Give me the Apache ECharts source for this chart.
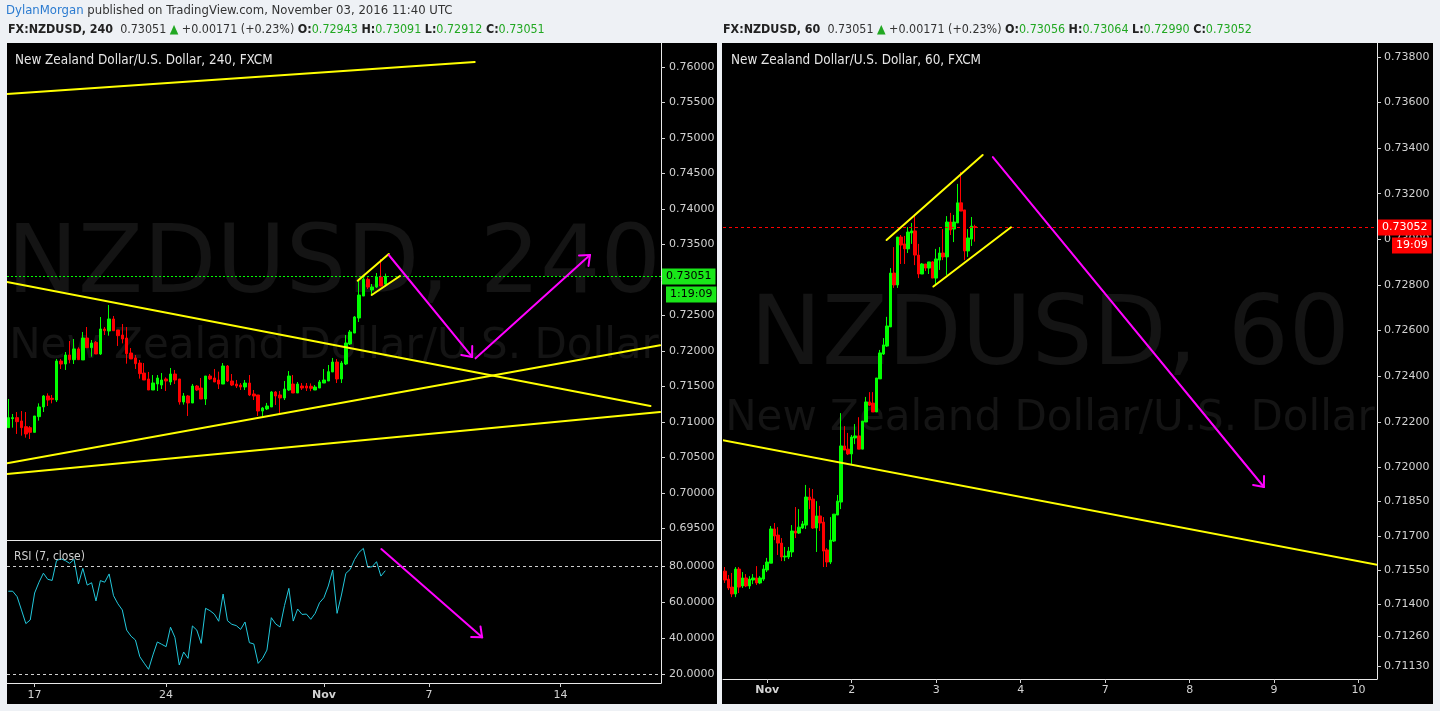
<!DOCTYPE html>
<html><head><meta charset="utf-8">
<script src="https://cdn.jsdelivr.net/npm/echarts@6/dist/echarts.min.js"></script>
<style>html,body{margin:0;padding:0;background:#eef1f5;}#c{width:1440px;height:711px;}</style>
</head><body><div id="c"></div><script>
// ---------- DATA ----------
// 4h candles [open, close, low, high]
const leftOHLC = [
[0.70922,0.71063,0.70922,0.71325],[0.71049,0.71063,0.70922,0.71114],[0.71063,0.71006,0.70833,0.71142],[0.71016,0.70922,0.70809,0.71156],
[0.70936,0.70833,0.70781,0.71142],[0.70922,0.70856,0.70762,0.70945],[0.70856,0.71086,0.70856,0.71086],[0.71077,0.71213,0.71020,0.71264],
[0.71213,0.71368,0.71142,0.71382],[0.71368,0.71311,0.71227,0.71405],[0.71335,0.71321,0.71264,0.71382],[0.71311,0.71860,0.71283,0.71889],
[0.71860,0.71818,0.71748,0.71889],[0.71818,0.71945,0.71734,0.71987],[0.71945,0.71879,0.71828,0.72142],[0.71879,0.72030,0.71818,0.72170],
[0.72030,0.71879,0.71875,0.72053],[0.71875,0.72184,0.71875,0.72269],[0.72184,0.72048,0.72048,0.72339],[0.72048,0.72114,0.71921,0.72156],
[0.72123,0.71959,0.71959,0.72142],[0.71959,0.72311,0.71945,0.72480],[0.72311,0.72287,0.72226,0.72339],[0.72283,0.72452,0.72217,0.72649],
[0.72452,0.72287,0.72287,0.72494],[0.72297,0.72217,0.72072,0.72297],[0.72226,0.72170,0.72109,0.72381],[0.72184,0.71964,0.71823,0.72339],
[0.71973,0.71889,0.71889,0.72043],[0.71903,0.71823,0.71748,0.71945],[0.71832,0.71682,0.71612,0.71875],[0.71691,0.71593,0.71593,0.71832],
[0.71607,0.71452,0.71452,0.71706],[0.71452,0.71551,0.71452,0.71663],[0.71537,0.71621,0.71438,0.71663],[0.71522,0.71593,0.71466,0.71691],
[0.71607,0.71579,0.71438,0.71630],[0.71565,0.71677,0.71522,0.71762],[0.71677,0.71593,0.71537,0.71734],[0.71607,0.71283,0.71246,0.71607],
[0.71283,0.71368,0.71246,0.71410],[0.71368,0.71269,0.71086,0.71382],[0.71269,0.71508,0.71269,0.71537],[0.71508,0.71452,0.71438,0.71522],
[0.71480,0.71325,0.71325,0.71621],[0.71325,0.71649,0.71241,0.71649],[0.71649,0.71607,0.71593,0.71677],[0.71621,0.71565,0.71565,0.71748],
[0.71593,0.71536,0.71466,0.71710],[0.71536,0.71790,0.71536,0.71832],[0.71790,0.71579,0.71565,0.71804],[0.71579,0.71522,0.71508,0.71677],
[0.71536,0.71508,0.71480,0.71593],[0.71522,0.71494,0.71452,0.71550],[0.71494,0.71550,0.71452,0.71593],[0.71550,0.71382,0.71367,0.71663],
[0.71396,0.71367,0.71311,0.71452],[0.71382,0.71156,0.71086,0.71382],[0.71156,0.71199,0.71086,0.71213],[0.71185,0.71227,0.71170,0.71270],
[0.71213,0.71424,0.71213,0.71438],[0.71424,0.71367,0.71241,0.71438],[0.71382,0.71340,0.71128,0.71438],[0.71340,0.71466,0.71311,0.71579],
[0.71452,0.71649,0.71438,0.71719],[0.71536,0.71410,0.71410,0.71663],[0.71410,0.71536,0.71410,0.71565],[0.71508,0.71480,0.71452,0.71550],
[0.71508,0.71480,0.71438,0.71550],[0.71504,0.71476,0.71435,0.71545],[0.71452,0.71494,0.71452,0.71522],[0.71480,0.71565,0.71480,0.71593],
[0.71550,0.71593,0.71550,0.71748],[0.71579,0.71710,0.71579,0.71804],[0.71706,0.71846,0.71706,0.71903],[0.71846,0.71607,0.71550,0.71888],
[0.71607,0.71832,0.71550,0.71860],[0.71818,0.72114,0.71804,0.72226],[0.72100,0.72269,0.72086,0.72297],[0.72254,0.72480,0.72254,0.72494],
[0.72466,0.72789,0.72410,0.72987],[0.72775,0.73010,0.72775,0.73057],[0.73010,0.72902,0.72874,0.73038],[0.72860,0.72902,0.72789,0.72944],
[0.72902,0.73043,0.72888,0.73099],[0.73043,0.72916,0.72916,0.73296],[0.72943,0.73051,0.72912,0.73091]
];
// RSI(7) values, one per 4h candle
const leftRSI = [66,66,63,55.6,48,50,65,71,76,72.6,72,83,84,83,81.5,83.7,70,78.7,69.4,70.7,60.6,71.9,71,75.6,63.5,59,55.6,44.4,41,38.9,
29.6,26,22.6,30.6,37.8,36.5,35.2,46,40.4,25,32.2,28.7,46.7,44.4,37,56.5,55.2,53.3,49.3,64.4,49.6,47.6,46.9,44.8,48.9,37.4,36.7,25.9,28.7,33.3,
51.3,47.8,46.1,58,67.6,49.4,56.1,53.1,53.3,50.4,53.7,59.6,62.4,68.9,77.8,53.7,63.9,75.9,78.1,83.7,87.6,89.8,79.3,79.6,82.4,74.4,77.4];
// 1h candles [open, close, low, high]
const rightOHLC = [
[0.71545,0.71506,0.71493,0.71563],[0.71510,0.71471,0.71462,0.71528],[0.71475,0.71445,0.71431,0.71537],[0.71445,0.71554,0.71431,0.71563],
[0.71554,0.71475,0.71449,0.71563],[0.71480,0.71515,0.71471,0.71541],[0.71515,0.71480,0.71475,0.71532],[0.71480,0.71510,0.71467,0.71523],
[0.71506,0.71515,0.71488,0.71532],[0.71515,0.71493,0.71484,0.71567],[0.71493,0.71515,0.71488,0.71523],[0.71510,0.71554,0.71502,0.71572],
[0.71550,0.71585,0.71541,0.71603],[0.71580,0.71730,0.71580,0.71743],[0.71730,0.71699,0.71681,0.71756],[0.71703,0.71668,0.71616,0.71738],
[0.71668,0.71607,0.71589,0.71690],[0.71607,0.71611,0.71589,0.71651],[0.71607,0.71633,0.71598,0.71651],[0.71629,0.71721,0.71607,0.71747],
[0.71721,0.71712,0.71690,0.71826],[0.71712,0.71738,0.71708,0.71817],[0.71734,0.71752,0.71730,0.71765],[0.71747,0.71870,0.71730,0.71923],
[0.71870,0.71857,0.71817,0.71910],[0.71861,0.71734,0.71730,0.71905],[0.71734,0.71787,0.71629,0.71852],[0.71787,0.71756,0.71721,0.71831],
[0.71760,0.71633,0.71563,0.71782],[0.71638,0.71585,0.71563,0.71646],[0.71585,0.71681,0.71576,0.71782],[0.71677,0.71795,0.71673,0.71795],
[0.71791,0.71852,0.71791,0.71879],[0.71848,0.72094,0.71817,0.72238],[0.72094,0.72076,0.72076,0.72181],[0.72080,0.72059,0.72054,0.72151],
[0.72059,0.72133,0.72015,0.72142],[0.72129,0.72138,0.72102,0.72190],[0.72138,0.72080,0.72080,0.72220],[0.72080,0.72203,0.72080,0.72203],
[0.72199,0.72287,0.72199,0.72309],[0.72287,0.72273,0.72269,0.72330],[0.72282,0.72243,0.72243,0.72330],[0.72243,0.72392,0.72243,0.72392],
[0.72388,0.72502,0.72388,0.72515],[0.72497,0.72537,0.72493,0.72567],[0.72532,0.72620,0.72528,0.72660],[0.72616,0.72852,0.72616,0.72874],
[0.72852,0.72800,0.72787,0.72966],[0.72800,0.73010,0.72787,0.73010],[0.73010,0.72975,0.72892,0.73019],[0.72980,0.72958,0.72892,0.73015],
[0.72958,0.73032,0.72940,0.73054],[0.73028,0.73037,0.72980,0.73072],[0.73037,0.72931,0.72887,0.73107],[0.72931,0.72848,0.72830,0.72980],
[0.72848,0.72892,0.72848,0.72896],[0.72892,0.72874,0.72861,0.72892],[0.72874,0.72901,0.72848,0.72901],[0.72901,0.72830,0.72830,0.72905],
[0.72830,0.72914,0.72804,0.72958],[0.72909,0.72940,0.72866,0.72966],[0.72940,0.72923,0.72909,0.73045],[0.72923,0.73076,0.72844,0.73102],
[0.73076,0.73041,0.73019,0.73116],[0.73045,0.73076,0.72988,0.73107],[0.73072,0.73160,0.73072,0.73243],[0.73160,0.73124,0.73124,0.73295],
[0.73129,0.72949,0.72909,0.73129],[0.72949,0.73006,0.72923,0.73045],[0.73001,0.73058,0.72971,0.73098],[0.73056,0.73052,0.72990,0.73064]
];
// drawings: [x1, y1, x2, y2, arrow]
const leftYellowLines = [[-0.3,0.7562,106.4,0.7607,0],[-0.3,0.72973,146.5,0.71227,0],[-0.3,0.70422,148.7,0.72082,0],[-0.3,0.70270,148.7,0.71142,0],
  [79.7,0.72991,86.8,0.73367,0],[82.9,0.72790,89.35,0.73057,0]];
const leftArrows = [[86.8,0.73353,105.8,0.71917,1],[106.6,0.71898,132.7,0.73353,1]];
const rsiArrows = [[85.1,89.4,108.1,40.4,1]];
const rightYellowLines = [[-0.85,0.72120,185.5,0.71572,0],[45.9,0.72997,73.2,0.73370,0],[59.2,0.72793,81.25,0.73053,0]];
const rightArrows = [[76.1,0.73361,153.1,0.71914,1]];
// ticks
const leftPriceTicks = [0.695,0.700,0.705,0.710,0.715,0.720,0.725,0.730,0.735,0.740,0.745,0.750,0.755,0.760];
const rsiTicks = [20,40,60,80];
const rightPriceTicks = [0.7113,0.7126,0.7140,0.7155,0.7170,0.7185,0.7200,0.7220,0.7240,0.7260,0.7280,0.7300,0.7320,0.7340,0.7360,0.7380];
const leftDayIdx = [6,36,72,96,126];
const leftDayText = ['17','24','Nov','7','14'];
const rightDayIdx = [12,36,60,84,108,132,156,180];
const rightDayText = ['Nov','2','3','4','7','8','9','10'];
const leftLast = 0.73051, rightLast = 0.73052;

// ---------- CHART ----------
const AX_FONT = "'DejaVu Sans', sans-serif";
const HDR_FONT = "'DejaVu Sans Condensed','Liberation Sans Narrow','Roboto Condensed','Liberation Sans',sans-serif";
const GREEN = '#00ff00', RED = '#ff0000';
const chart = echarts.init(document.getElementById('c'), null, {renderer:'canvas'});

function segRender(color, width) {
  return function (params, api) {
    const a = api.coord([api.value(0), api.value(1)]);
    const b = api.coord([api.value(2), api.value(3)]);
    const kids = [{type:'line', shape:{x1:a[0],y1:a[1],x2:b[0],y2:b[1]}, style:{stroke:color,lineWidth:width,lineCap:'round'}}];
    if (api.value(4) === 1) {
      const dx=b[0]-a[0], dy=b[1]-a[1], len=Math.hypot(dx,dy), ux=dx/len, uy=dy/len;
      const L=11, th=40*Math.PI/180;
      [1,-1].forEach(s => {
        const c=Math.cos(s*th), sn=Math.sin(s*th);
        const rx=-(ux*c-uy*sn), ry=-(ux*sn+uy*c);
        kids.push({type:'line', shape:{x1:b[0],y1:b[1],x2:b[0]+rx*L,y2:b[1]+ry*L}, style:{stroke:color,lineWidth:width,lineCap:'round'}});
      });
    }
    return {type:'group', children:kids};
  };
}
function segSeries(data, color, xi, yi) {
  return {type:'custom', xAxisIndex:xi, yAxisIndex:yi, clip:true, silent:true, z:5,
    dimensions:['x1','y1','x2','y2','arrow'], encode:{x:[0,2], y:[1,3]},
    renderItem: segRender(color, 2), data: data};
}
function dayFormatter(idxs, texts) {
  return function (v) { const i = idxs.indexOf(Math.round(v)); if (i < 0) return ''; return texts[i] === 'Nov' ? '{b|Nov}' : texts[i]; };
}
const axisLabelBase = {color:'#d2d2d2', fontFamily:AX_FONT, fontSize:11};
const whiteLine = {show:true, onZero:false, lineStyle:{color:'#e8e8e8', width:1}};
const HIDE = 'rgba(0,0,0,0)';

const option = {
  backgroundColor:'#eef1f5',
  animation:false,
  grid:[
    {left:7, top:43, width:654, height:497},
    {left:7, top:541, width:654, height:142},
    {left:723, top:43, width:654, height:636}
  ],
  xAxis:[
    {type:'value', gridIndex:0, min:-0.3, max:148.9, axisLine:whiteLine, axisTick:{show:false}, axisLabel:{show:false}, splitLine:{show:false}},
    {type:'value', gridIndex:1, min:-0.3, max:148.9, axisLine:whiteLine,
      axisTick:{show:true, customValues:leftDayIdx, length:4, lineStyle:{color:'#d2d2d2'}},
      axisLabel:Object.assign({}, axisLabelBase, {customValues:leftDayIdx, margin:7, formatter:dayFormatter(leftDayIdx,leftDayText), rich:{b:{fontWeight:'bold', color:'#d2d2d2', fontFamily:AX_FONT, fontSize:11}}}),
      splitLine:{show:false}},
    {type:'value', gridIndex:2, min:-0.57, max:185.23, axisLine:whiteLine,
      axisTick:{show:true, customValues:rightDayIdx, length:4, lineStyle:{color:'#d2d2d2'}},
      axisLabel:Object.assign({}, axisLabelBase, {customValues:rightDayIdx, margin:6, formatter:dayFormatter(rightDayIdx,rightDayText), rich:{b:{fontWeight:'bold', color:'#d2d2d2', fontFamily:AX_FONT, fontSize:11}}}),
      splitLine:{show:false}}
  ],
  yAxis:[
    {type:'value', gridIndex:0, position:'right', min:0.69340, max:0.76338, axisLine:whiteLine,
      axisTick:{show:true, customValues:leftPriceTicks, length:4, lineStyle:{color:'#d2d2d2'}},
      axisLabel:Object.assign({}, axisLabelBase, {customValues:leftPriceTicks, margin:8, formatter:v=>v.toFixed(5)}), splitLine:{show:false}},
    {type:'value', gridIndex:1, position:'right', min:15, max:93.9, axisLine:whiteLine,
      axisTick:{show:true, customValues:rsiTicks, length:4, lineStyle:{color:'#d2d2d2'}},
      axisLabel:Object.assign({}, axisLabelBase, {customValues:rsiTicks, margin:8, formatter:v=>v.toFixed(4)}), splitLine:{show:false}},
    {type:'value', gridIndex:2, position:'right', min:0.71072, max:0.73861, axisLine:whiteLine,
      axisTick:{show:true, customValues:rightPriceTicks, length:4, lineStyle:{color:'#d2d2d2'}},
      axisLabel:Object.assign({}, axisLabelBase, {customValues:rightPriceTicks, margin:7, formatter:v=>v.toFixed(5)}), splitLine:{show:false}}
  ],
  series:[
    {type:'candlestick', xAxisIndex:0, yAxisIndex:0, barWidth:3, encode:{x:0, y:[1,2,3,4]},
      data:leftOHLC.map((d,i)=>[i].concat(d)),
      itemStyle:{color:GREEN, color0:RED, borderColor:GREEN, borderColor0:RED, borderColorDoji:GREEN, borderWidth:1},
      markLine:{symbol:'none', silent:true, animation:false, precision:5, data:[
        {yAxis:leftLast, lineStyle:{color:HIDE, width:0},
          label:{show:true, position:'end', distance:1, offset:[4,18], formatter:'1:19:09', backgroundColor:'#19e619', color:'#000', padding:[3,4,2,4], fontFamily:AX_FONT, fontSize:11}},
        {yAxis:leftLast, lineStyle:{color:GREEN, type:[2,2], width:1},
          label:{show:true, position:'end', distance:1, formatter:'0.73051', backgroundColor:'#19e619', color:'#000', padding:[3,4,2,4], fontFamily:AX_FONT, fontSize:11}}
      ]}},
    segSeries(leftYellowLines, '#ffff00', 0, 0),
    segSeries(leftArrows, '#ff00ff', 0, 0),
    {type:'line', xAxisIndex:1, yAxisIndex:1, data:leftRSI.map((v,i)=>[i,v]), showSymbol:false, symbol:'none',
      lineStyle:{color:'#22c8dc', width:1}, z:3,
      markLine:{symbol:'none', silent:true, animation:false, label:{show:false},
        lineStyle:{color:'#cfcfcf', type:[3,3], width:1}, data:[{yAxis:80},{yAxis:20}]}},
    segSeries(rsiArrows, '#ff00ff', 1, 1),
    {type:'candlestick', xAxisIndex:2, yAxisIndex:2, barWidth:3, encode:{x:0, y:[1,2,3,4]},
      data:rightOHLC.map((d,i)=>[i].concat(d)),
      itemStyle:{color:GREEN, color0:RED, borderColor:GREEN, borderColor0:RED, borderColorDoji:GREEN, borderWidth:1},
      markLine:{symbol:'none', silent:true, animation:false, precision:5, data:[
        {yAxis:rightLast, lineStyle:{color:HIDE, width:0},
          label:{show:true, position:'end', distance:1, offset:[14,18], formatter:'19:09', backgroundColor:'#ff0000', color:'#fff', padding:[3,4,2,4], fontFamily:AX_FONT, fontSize:11}},
        {yAxis:rightLast, lineStyle:{color:RED, type:[3,3], width:1},
          label:{show:true, position:'end', distance:1, formatter:'0.73052', backgroundColor:'#ff0000', color:'#fff', padding:[3,4,2,4], fontFamily:AX_FONT, fontSize:11}}
      ]}},
    segSeries(rightYellowLines, '#ffff00', 2, 2),
    segSeries(rightArrows, '#ff00ff', 2, 2)
  ],
  graphic:[
    {type:'rect', z:-5, silent:true, shape:{x:7,y:43,width:710,height:661}, style:{fill:'#000'}},
    {type:'rect', z:-5, silent:true, shape:{x:722,y:43,width:711,height:661}, style:{fill:'#000'}},
    {type:'text', z:-4, silent:true, x:334, y:267, style:{text:'NZDUSD, 240', fill:'#141414', font:"95px 'DejaVu Sans', sans-serif", align:'center', verticalAlign:'middle'}},
    {type:'text', z:-4, silent:true, x:334, y:347, style:{text:'New Zealand Dollar/U.S. Dollar', fill:'#141414', font:"42px 'DejaVu Sans', sans-serif", align:'center', verticalAlign:'middle'}},
    {type:'text', z:-4, silent:true, x:1050, y:339, style:{text:'NZDUSD, 60', fill:'#141414', font:"96px 'DejaVu Sans', sans-serif", align:'center', verticalAlign:'middle'}},
    {type:'text', z:-4, silent:true, x:1050, y:419, style:{text:'New Zealand Dollar/U.S. Dollar', fill:'#141414', font:"42px 'DejaVu Sans', sans-serif", align:'center', verticalAlign:'middle'}},
    {type:'text', z:20, silent:true, x:15, y:61, style:{text:'New Zealand Dollar/U.S. Dollar, 240, FXCM', fill:'#e6e6e6', font:"13.4px "+HDR_FONT, verticalAlign:'middle'}},
    {type:'text', z:20, silent:true, x:731, y:61, style:{text:'New Zealand Dollar/U.S. Dollar, 60, FXCM', fill:'#e6e6e6', font:"13.4px "+HDR_FONT, verticalAlign:'middle'}},
    {type:'text', z:20, silent:true, x:14, y:557, style:{text:'RSI (7, close)', fill:'#d0d0d0', font:"12px "+HDR_FONT, verticalAlign:'middle'}},
    {type:'text', z:20, silent:true, x:6, y:11, style:{text:'{u|DylanMorgan} published on TradingView.com, November 03, 2016 11:40 UTC', fill:'#333', font:"13px "+HDR_FONT, verticalAlign:'middle',
      rich:{u:{fill:'#2b7bd0', font:"13px "+HDR_FONT}}}},
    {type:'text', z:20, silent:true, x:8, y:30, style:{
      text:'{b|FX:NZDUSD, 240}  0.73051 {g|▲} +0.00171 (+0.23%) {b|O:}{g|0.72943} {b|H:}{g|0.73091} {b|L:}{g|0.72912} {b|C:}{g|0.73051}',
      fill:'#333', font:"12.4px "+HDR_FONT, verticalAlign:'middle',
      rich:{b:{fill:'#222', font:"bold 12.4px "+HDR_FONT}, g:{fill:'#22a822', font:"12.4px "+HDR_FONT}}}},
    {type:'text', z:20, silent:true, x:723, y:30, style:{
      text:'{b|FX:NZDUSD, 60}  0.73051 {g|▲} +0.00171 (+0.23%) {b|O:}{g|0.73056} {b|H:}{g|0.73064} {b|L:}{g|0.72990} {b|C:}{g|0.73052}',
      fill:'#333', font:"12.4px "+HDR_FONT, verticalAlign:'middle',
      rich:{b:{fill:'#222', font:"bold 12.4px "+HDR_FONT}, g:{fill:'#22a822', font:"12.4px "+HDR_FONT}}}}
  ]
};
chart.setOption(option);
</script></body></html>
